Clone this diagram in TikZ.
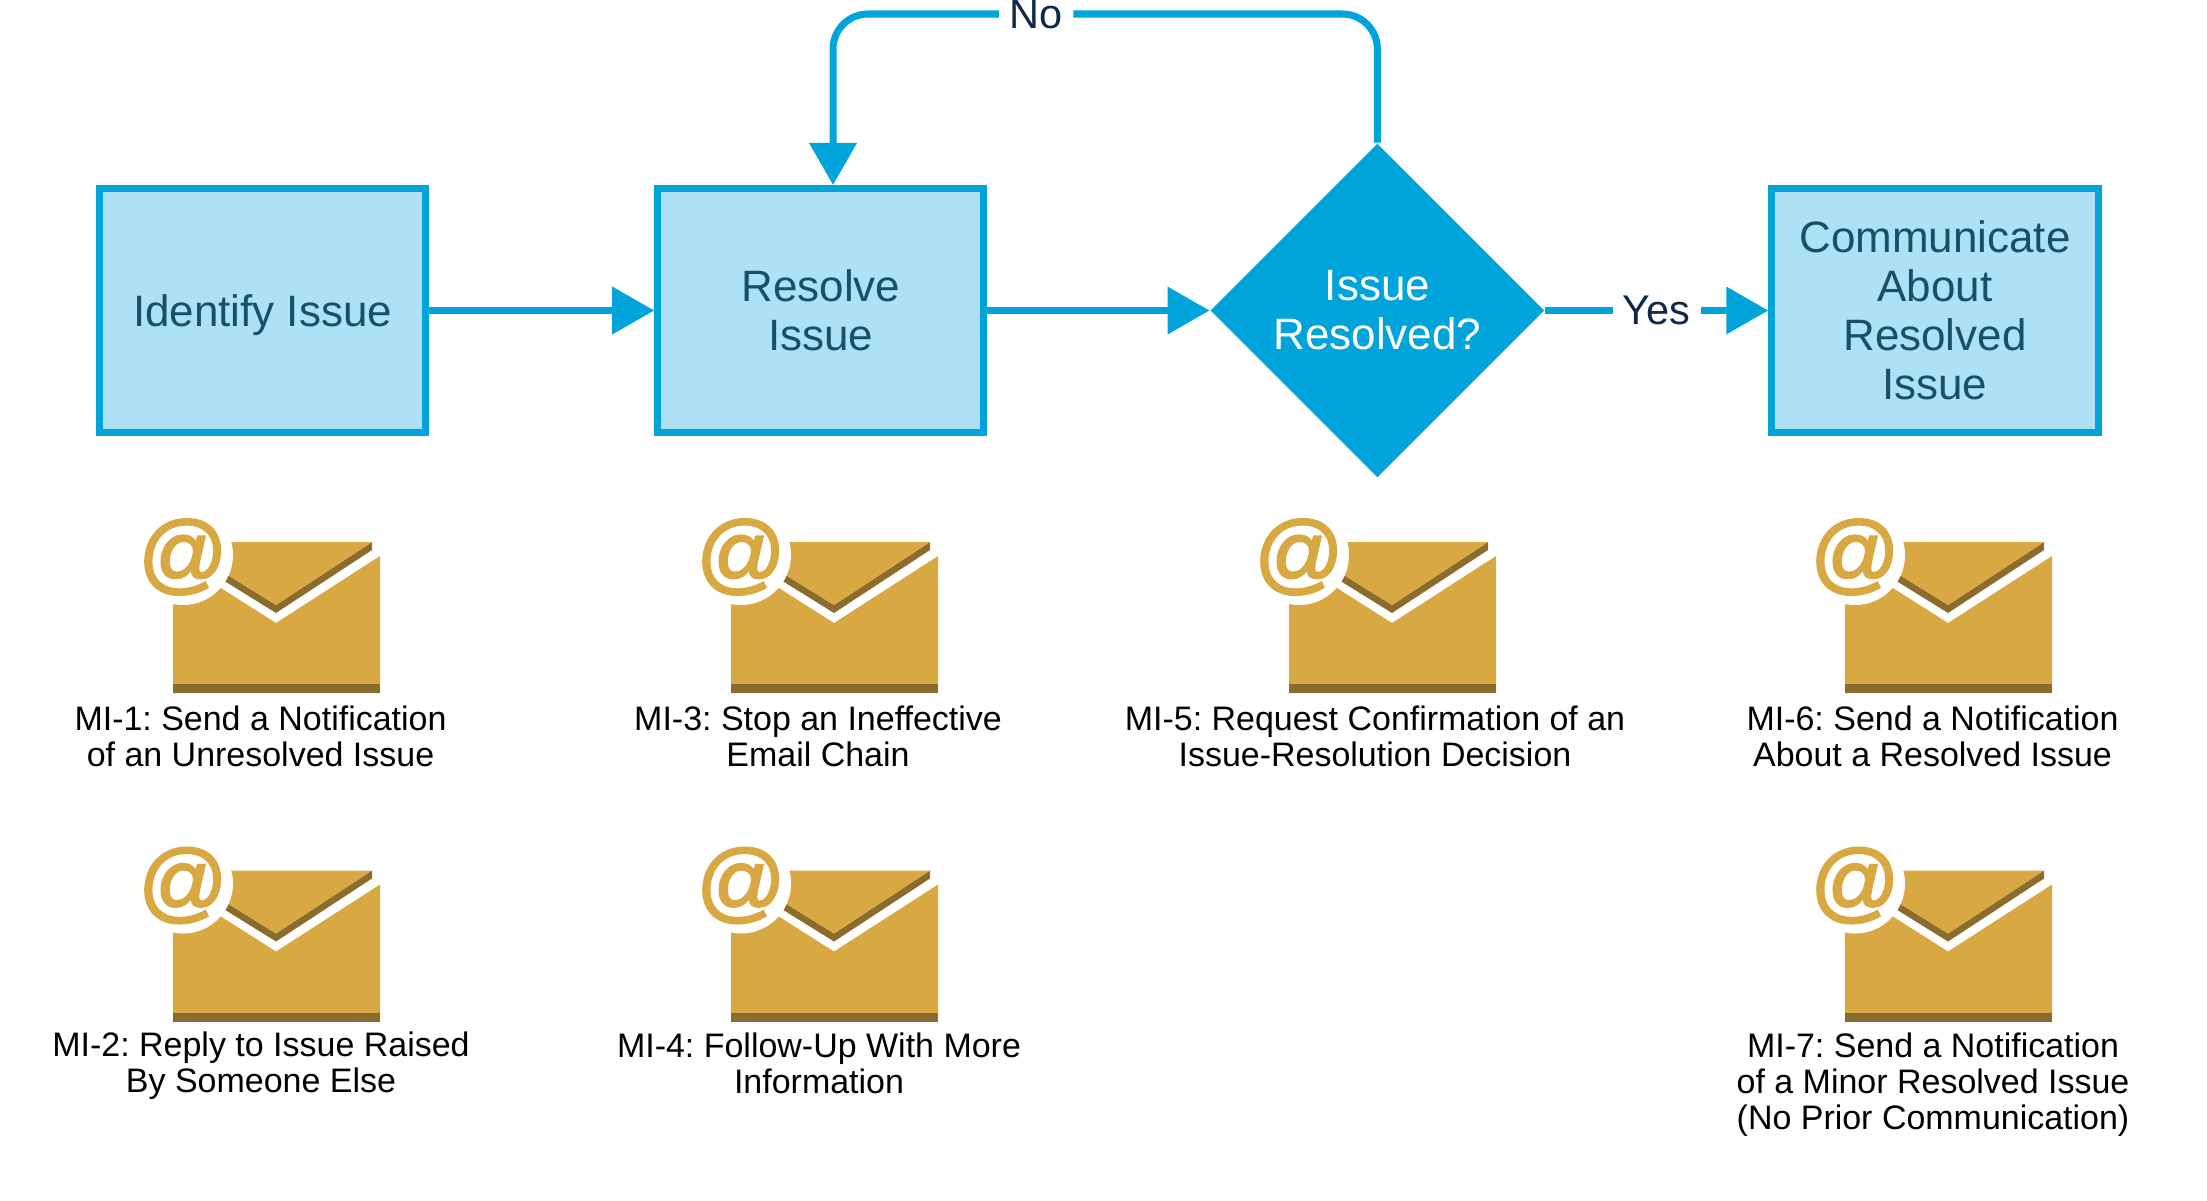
\documentclass[tikz,border=0pt]{standalone}
\usepackage{fontspec}
\setmainfont{Liberation Sans}
\newfontfamily\mailatfont[FakeBold=2.5]{Liberation Sans}
\usetikzlibrary{arrows.meta,positioning,shapes.geometric}
\definecolor{flowblue}{HTML}{00A3DA}
\definecolor{boxblue}{HTML}{AEE1F5}
\definecolor{boxtext}{HTML}{17506B}
\definecolor{navytext}{HTML}{10284A}
\definecolor{mailgold}{HTML}{D8A843}
\definecolor{maildark}{HTML}{8B6C2C}
\tikzset{
    process/.style={rectangle, draw=flowblue, fill=boxblue, line width=0.07cm, text=boxtext,
        minimum width=3.26cm, minimum height=2.44cm, align=center, inner sep=0pt,
        font=\fontsize{12.5}{13.9}\selectfont},
    decision/.style={diamond, fill=flowblue, text=white, aspect=1, inner sep=0pt,
        minimum width=3.34cm, minimum height=3.34cm, align=center,
        font=\fontsize{12.5}{13.9}\selectfont},
    flow/.style={draw=flowblue, line width=0.07cm, -{Triangle[length=0.42cm,width=0.46cm]}},
    flowline/.style={draw=flowblue, line width=0.07cm},
    edgelabel/.style={fill=white, text=navytext, inner xsep=0.1cm, inner ysep=0pt,
        font=\fontsize{11.8}{12}\selectfont},
    caption/.style={align=center, text=black, inner sep=0pt,
        font=\fontsize{9.66}{10.25}\selectfont\frenchspacing},
    mailicon/.pic={
        \fill[mailgold] (0,151) -- (207,151) -- (207,14) -- (103,81) -- (40,41) -- (0,41) -- cycle;
        \fill[maildark] (0,142) rectangle (207,151);
        \fill[maildark] (199,0) -- (199,8) -- (103,71) -- (45,35) -- (45,27) -- (103,63) -- cycle;
        \fill[mailgold] (50,0) -- (199,0) -- (103,63) -- (45,27) -- cycle;
        \fill[white] (10,13) circle (50);
        \node (-at) at (10,15) [text=mailgold, inner sep=0pt, font=\fontsize{25}{25}\selectfont\mailatfont] {@};
    }
}
\begin{document}
\begin{tikzpicture}[x=0.01cm, y=-0.01cm]
    \useasboundingbox (0,0) rectangle (2207,1200);

    \node (identify) [process, text depth=0pt] at (262.5,310.5) {Identify Issue};
    \node (resolve) [process, right=2.25cm of identify] {Resolve\\Issue};
    \node (decide) [decision, right=2.22cm of resolve] {Issue\\Resolved?};
    \node (communicate) [process, right=2.23cm of decide] {Communicate\\About\\Resolved\\Issue};
    \node (nolabel) [edgelabel] at (1036,14) {No};
    \coordinate (resolvetop) at (833,185);

    \draw [flow] (identify) -- (resolve);
    \draw [flow] (resolve) -- (decide);
    \draw [flow] (decide) -- node [edgelabel] (yeslabel) {Yes} (communicate);
    \draw [flowline, rounded corners=0.35cm] (decide.north) |- (nolabel.east);
    \draw [flow, rounded corners=0.35cm] (nolabel.west) -| (resolvetop);

    % mail icons, top row
    \pic (mailone) at (173,542) {mailicon};
    \pic (mailthree) at (731,542) {mailicon};
    \pic (mailfive) at (1289,542) {mailicon};
    \pic (mailsix) at (1845,542) {mailicon};
    % bottom row
    \pic (mailtwo) at (173,870.5) {mailicon};
    \pic (mailfour) at (731,870.5) {mailicon};
    \pic (mailseven) at (1845,870.5) {mailicon};

    \node (mione) [caption] at (260.5,736) {MI-1: Send a Notification\\of an Unresolved Issue};
    \node (mithree) [caption] at (818,736) {MI-3: Stop an Ineffective\\Email Chain};
    \node (mifive) [caption] at (1375,736) {MI-5: Request Confirmation of an\\Issue-Resolution Decision};
    \node (misix) [caption] at (1932.5,736) {MI-6: Send a Notification\\About a Resolved Issue};
    \node (mitwo) [caption] at (261,1066) {MI-2: Reply to Issue Raised\\By Someone Else};
    \node (mifour) [caption] at (819,1063) {MI-4: Follow-Up With More\\Information};
    \node (miseven) [caption] at (1933,1085) {MI-7: Send a Notification\\of a Minor Resolved Issue\\(No Prior Communication)};
\end{tikzpicture}
\end{document}
